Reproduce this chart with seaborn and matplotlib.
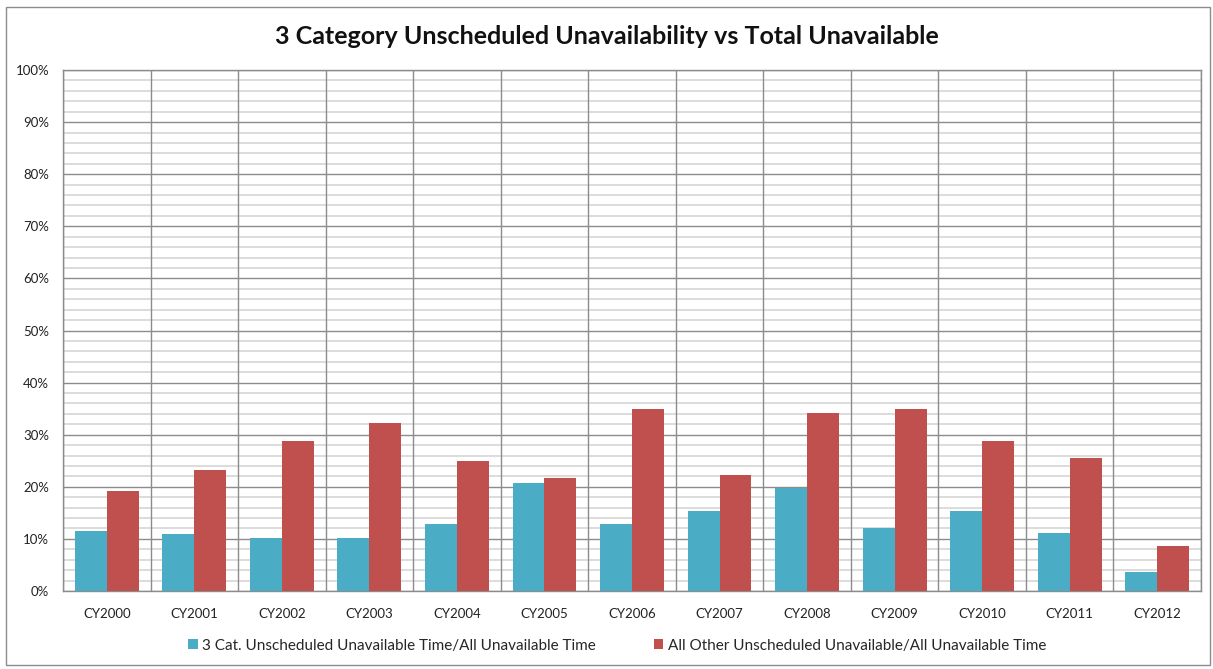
import pandas as pd
import numpy as np
import seaborn as sns
import matplotlib.pyplot as plt
from matplotlib.ticker import MultipleLocator, PercentFormatter

years = ["CY2000", "CY2001", "CY2002", "CY2003", "CY2004", "CY2005", "CY2006",
         "CY2007", "CY2008", "CY2009", "CY2010", "CY2011", "CY2012"]
three_cat = [11.5, 10.9, 10.1, 10.1, 12.8, 20.7, 12.8, 15.4, 19.7, 12.1, 15.3, 11.1, 3.6]
all_other = [19.2, 23.2, 28.8, 32.2, 24.9, 21.6, 35.0, 22.2, 34.1, 35.0, 28.8, 25.6, 8.7]
series = ["3 Cat. Unscheduled Unavailable Time/All Unavailable Time",
          "All Other Unscheduled Unavailable/All Unavailable Time"]

df = pd.DataFrame({
    "year": years * 2,
    "value": three_cat + all_other,
    "series": [series[0]] * len(years) + [series[1]] * len(years),
})

sns.set_style("white")
plt.rcParams["font.family"] = ["Lato", "DejaVu Sans"]

fig = plt.figure(figsize=(12.13, 6.69), dpi=100)
ax = fig.add_axes([63 / 1213, 1 - 591 / 669, (1201 - 63) / 1213, (591 - 70) / 669])

sns.barplot(data=df, x="year", y="value", hue="series", ax=ax,
            palette=["#4BACC6", "#C0504D"], width=0.73, saturation=1,
            edgecolor="none", zorder=3)

ax.set_ylim(0, 100)
ax.set_xlim(-0.5, len(years) - 0.5)
ax.yaxis.set_major_locator(MultipleLocator(10))
ax.yaxis.set_minor_locator(MultipleLocator(2))
ax.yaxis.set_major_formatter(PercentFormatter(decimals=0))
ax.xaxis.set_minor_locator(MultipleLocator(1, offset=0.5))
ax.set_axisbelow(True)
ax.grid(which="minor", axis="y", color="#D9D9D9", lw=1.3)
ax.grid(which="major", axis="y", color="#8C8C8C", lw=1)
ax.grid(which="minor", axis="x", color="#8C8C8C", lw=1)
# draw the category separators over the light minor lines
ax.xaxis.set_zorder(0.6)
ax.tick_params(axis="both", which="both", length=0, labelsize=9.5,
               colors="#222222", pad=12)
ax.tick_params(axis="y", pad=10)
ax.set_xlabel("")
ax.set_ylabel("")
for s in ax.spines.values():
    s.set_color("#8C8C8C")
    s.set_linewidth(1)

ax.legend(loc="upper center", bbox_to_anchor=(0.487, -0.065), ncol=2, frameon=False,
          fontsize=11, handlelength=0.6, handleheight=0.6, handletextpad=0.3,
          columnspacing=3.8)

fig.text(0.5, 1 - 36 / 669, "3 Category Unscheduled Unavailability vs Total Unavailable",
         ha="center", va="center", fontsize=18, fontweight="bold", color="#111111")

fig.patches.append(plt.Rectangle((6 / 1213, 1 - 665 / 669), 1204 / 1213, 658 / 669,
                                 transform=fig.transFigure, fill=False,
                                 edgecolor="#8C8C8C", lw=1))

fig.savefig("out.png", dpi=100)
